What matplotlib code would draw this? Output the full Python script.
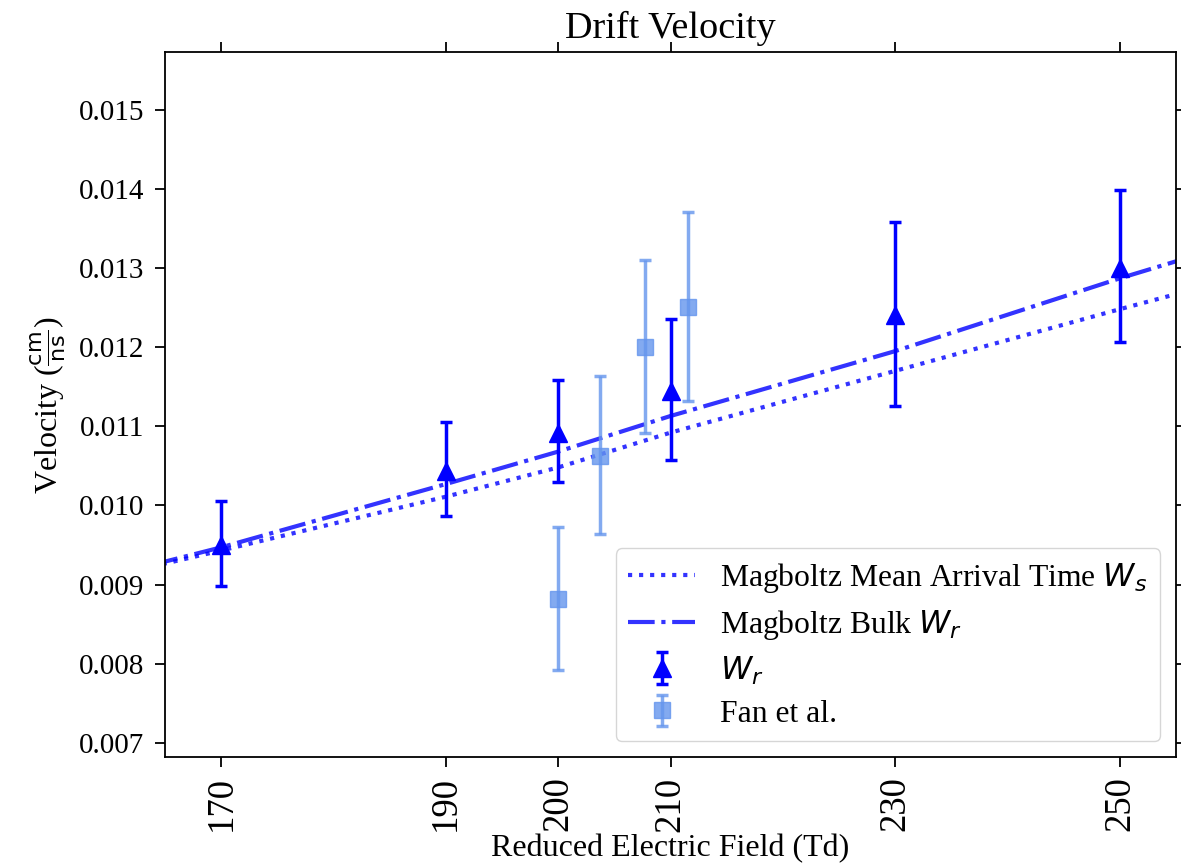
import matplotlib
matplotlib.use("Agg")
import matplotlib.pyplot as plt
import numpy as np

# ---- data ----
field_wr = [170, 190, 200, 210, 230, 250]
vel_wr = [0.00950, 0.01044, 0.01092, 0.01144, 0.01241, 0.01300]
err_wr_lo = [0.00052, 0.00058, 0.00063, 0.00086, 0.00115, 0.00093]
err_wr_hi = [0.00056, 0.00062, 0.00066, 0.00092, 0.00117, 0.00098]

field_fan = [200.0, 203.7, 207.7, 211.6]
vel_fan = [0.00882, 0.01063, 0.01200, 0.01251]
err_fan_lo = [0.00090, 0.00099, 0.00109, 0.00119]
err_fan_hi = [0.00091, 0.00100, 0.00110, 0.00120]

field_mag = [160, 170, 190, 200, 210, 230, 250, 260]
vel_mean_arrival = [0.00910, 0.00943, 0.01011, 0.01048, 0.01092, 0.01170, 0.01248, 0.01286]
vel_bulk = [0.00911, 0.00947, 0.01027, 0.01068, 0.01113, 0.01195, 0.01287, 0.01330]

xticks = [170, 190, 200, 210, 230, 250]
yticks = [0.007, 0.008, 0.009, 0.010, 0.011, 0.012, 0.013, 0.014, 0.015]

# ---- style ----
plt.rcParams['font.family'] = ['Liberation Serif', 'DejaVu Sans']
plt.rcParams['mathtext.fontset'] = 'dejavusans'

fig = plt.figure(figsize=(11.81, 8.64), dpi=100)
ax = fig.add_axes([0.1397, 0.1238, 0.8561, 0.8160])

ax.plot(field_mag, vel_mean_arrival, linestyle=':', color='blue', alpha=0.8,
        lw=3, label=r'Magboltz Mean Arrival Time $W_s$')
ax.plot(field_mag, vel_bulk, linestyle='-.', color='blue', alpha=0.8,
        lw=3, label=r'Magboltz Bulk $W_r$')
ax.errorbar(field_wr, vel_wr, yerr=[err_wr_lo, err_wr_hi], fmt='^', color='blue',
            ms=13, elinewidth=2.5, capsize=4, capthick=2.5, label=r'$W_r$')
ax.errorbar(field_fan, vel_fan, yerr=[err_fan_lo, err_fan_hi], fmt='s',
            color='cornflowerblue', alpha=0.8, ms=12, elinewidth=2.5,
            capsize=4, capthick=2.5, label='Fan et al.')

ax.set_xlim(165, 255)
ax.set_ylim(0.00682, 0.01573)
ax.set_xticks(xticks)
ax.set_xticklabels([str(t) for t in xticks], rotation=90)
ax.set_yticks(yticks)
ax.set_yticklabels([f'{t:.3f}' for t in yticks])
ax.tick_params(axis='both', which='major', direction='out', length=7, width=1.3,
               top=True, right=True)
ax.tick_params(axis='y', labelsize=21, pad=8)
ax.tick_params(axis='x', labelsize=26.5, pad=7)
for s in ax.spines.values():
    s.set_linewidth(1.3)

ax.set_title('Drift Velocity', fontsize=27.5, pad=10)
ax.set_xlabel('Reduced Electric Field (Td)', fontsize=23, labelpad=2)
ax.set_ylabel(r'Velocity ($\frac{\mathrm{cm}}{\mathrm{ns}}$)', fontsize=23, labelpad=8)

ax.legend(loc='lower right', fontsize=22.8, borderaxespad=0.5, handlelength=2.1,
          labelspacing=0.4)

fig.savefig('out.png', dpi=100)
